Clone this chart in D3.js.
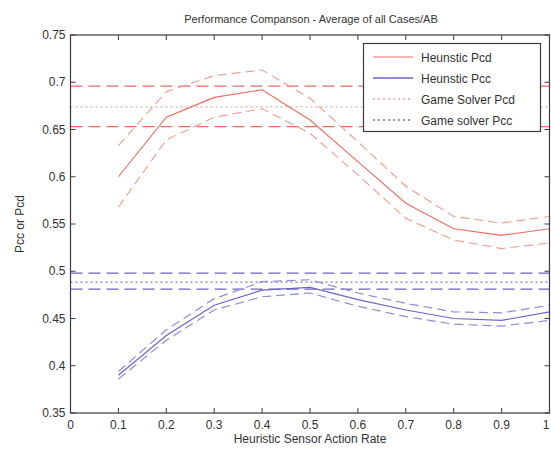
<!DOCTYPE html>
<html><head><meta charset="utf-8">
<script src="https://cdn.jsdelivr.net/npm/d3@7"></script>
<style>
html,body{margin:0;padding:0;background:#fff;}
svg{display:block;font-family:"Liberation Sans",Arial,sans-serif;}
</style></head>
<body>
<svg id="chart" width="551" height="454"></svg>
<script>
const xValues = [0.1,0.2,0.3,0.4,0.5,0.6,0.7,0.8,0.9,1.0];
const heurPcd      = [0.600,0.663,0.684,0.692,0.660,0.616,0.572,0.545,0.538,0.545];
const heurPcdUpper = [0.633,0.690,0.707,0.713,0.683,0.637,0.590,0.558,0.551,0.558];
const heurPcdLower = [0.568,0.639,0.663,0.672,0.646,0.602,0.556,0.533,0.524,0.530];
const heurPcc      = [0.390,0.432,0.464,0.480,0.483,0.470,0.459,0.450,0.448,0.457];
const heurPccUpper = [0.394,0.438,0.471,0.489,0.491,0.477,0.466,0.457,0.456,0.464];
const heurPccLower = [0.386,0.427,0.459,0.473,0.477,0.463,0.452,0.444,0.442,0.448];
const gamePcd = 0.674, gamePcdUpper = 0.696, gamePcdLower = 0.653;
const gamePcc = 0.4885, gamePccUpper = 0.498, gamePccLower = 0.481;
const xTicks = [0,0.1,0.2,0.3,0.4,0.5,0.6,0.7,0.8,0.9,1];
const yTicks = [0.35,0.4,0.45,0.5,0.55,0.6,0.65,0.7,0.75];
const legendLabels = ["Heunstic Pcd","Heunstic Pcc","Game Solver Pcd","Game solver Pcc"];

const svg = d3.select("#chart");
const L = 70.5, R = 549.5, T = 35, B = 413;
const x = d3.scaleLinear().domain([0,1]).range([L,R]);
const y = d3.scaleLinear().domain([0.35,0.75]).range([B,T]);

const red = "#ee6a5e", redLight = "#f29a8e", redDot = "#e8aaa2";
const blue = "#6a66c4", blueLight = "#8f8cd6", blueDot = "#7874cc";
const axisCol = "#3a3a48";

const line = d3.line().x((d,i)=>x(xValues[i])).y(d=>y(d));

const g = svg.append("g");
function hline(v, col, dash, w){
  g.append("line").attr("x1",x(0)).attr("x2",x(1)).attr("y1",y(v)).attr("y2",y(v))
   .attr("stroke",col).attr("stroke-width",w||1.2).attr("stroke-dasharray",dash);
}
hline(gamePcdUpper, red, "12,6", 1.3);
hline(gamePcdLower, red, "12,6", 1.3);
hline(gamePcd, redDot, "2,3", 1.3);
hline(gamePccUpper, blue, "12,6", 1.2);
hline(gamePccLower, blue, "12,6", 1.2);
hline(gamePcc, blueDot, "2,3", 1.3);

function path(data,col,dash,w){
  g.append("path").datum(data).attr("d",line).attr("fill","none")
   .attr("stroke",col).attr("stroke-width",w||1).attr("stroke-dasharray",dash||null);
}
path(heurPcdUpper, redLight, "9,5", 1.1);
path(heurPcdLower, redLight, "9,5", 1.1);
path(heurPcd, red, null, 1.1);
path(heurPccUpper, blueLight, "9,5", 1.2);
path(heurPccLower, blueLight, "9,5", 1.2);
path(heurPcc, blue, null, 1.2);

// axes box
const ax = svg.append("g");
ax.append("rect").attr("x",L).attr("y",T).attr("width",R-L).attr("height",B-T)
  .attr("fill","none").attr("stroke",axisCol).attr("stroke-width",1.2);
const tl = 5;
xTicks.forEach(t=>{
  ax.append("line").attr("x1",x(t)).attr("x2",x(t)).attr("y1",B).attr("y2",B-tl).attr("stroke",axisCol);
  ax.append("line").attr("x1",x(t)).attr("x2",x(t)).attr("y1",T).attr("y2",T+tl).attr("stroke",axisCol);
  ax.append("text").attr("x",Math.min(x(t),546)).attr("y",B+16).attr("text-anchor","middle")
    .attr("font-size",12).attr("fill","#333").text(d3.format("")(t));
});
yTicks.forEach(t=>{
  ax.append("line").attr("x1",L).attr("x2",L+tl).attr("y1",y(t)).attr("y2",y(t)).attr("stroke",axisCol);
  ax.append("line").attr("x1",R).attr("x2",R-tl).attr("y1",y(t)).attr("y2",y(t)).attr("stroke",axisCol);
  ax.append("text").attr("x",L-5).attr("y",y(t)+4).attr("text-anchor","end")
    .attr("font-size",12).attr("fill","#333").text(t);
});

svg.append("text").attr("x",311).attr("y",23).attr("text-anchor","middle")
  .attr("font-size",11).attr("fill","#333").text("Performance Companson - Average of all Cases/AB");
svg.append("text").attr("x",310).attr("y",443).attr("text-anchor","middle")
  .attr("font-size",12).attr("fill","#333").text("Heuristic Sensor Action Rate");
svg.append("text").attr("transform","translate(24,224) rotate(-90)").attr("text-anchor","middle")
  .attr("font-size",12).attr("fill","#333").text("Pcc or Pcd");

// legend
const lg = svg.append("g");
lg.append("rect").attr("x",363.5).attr("y",43.5).attr("width",177).attr("height",88)
  .attr("fill","#fff").attr("stroke",axisCol).attr("stroke-width",1.2);
const legendStyles = [
  {col:red, dash:null, w:1.2},
  {col:blue, dash:null, w:1.4},
  {col:redDot, dash:"2,3", w:1.3},
  {col:blueDot, dash:"2,3", w:1.3}
];
legendLabels.forEach((lab,i)=>{
  const yy = 57 + i*21;
  lg.append("line").attr("x1",373).attr("x2",413).attr("y1",yy).attr("y2",yy)
    .attr("stroke",legendStyles[i].col).attr("stroke-width",legendStyles[i].w)
    .attr("stroke-dasharray",legendStyles[i].dash);
  lg.append("text").attr("x",421).attr("y",yy+4.5).attr("font-size",12).attr("fill","#333").text(lab);
});
</script>
</body></html>
